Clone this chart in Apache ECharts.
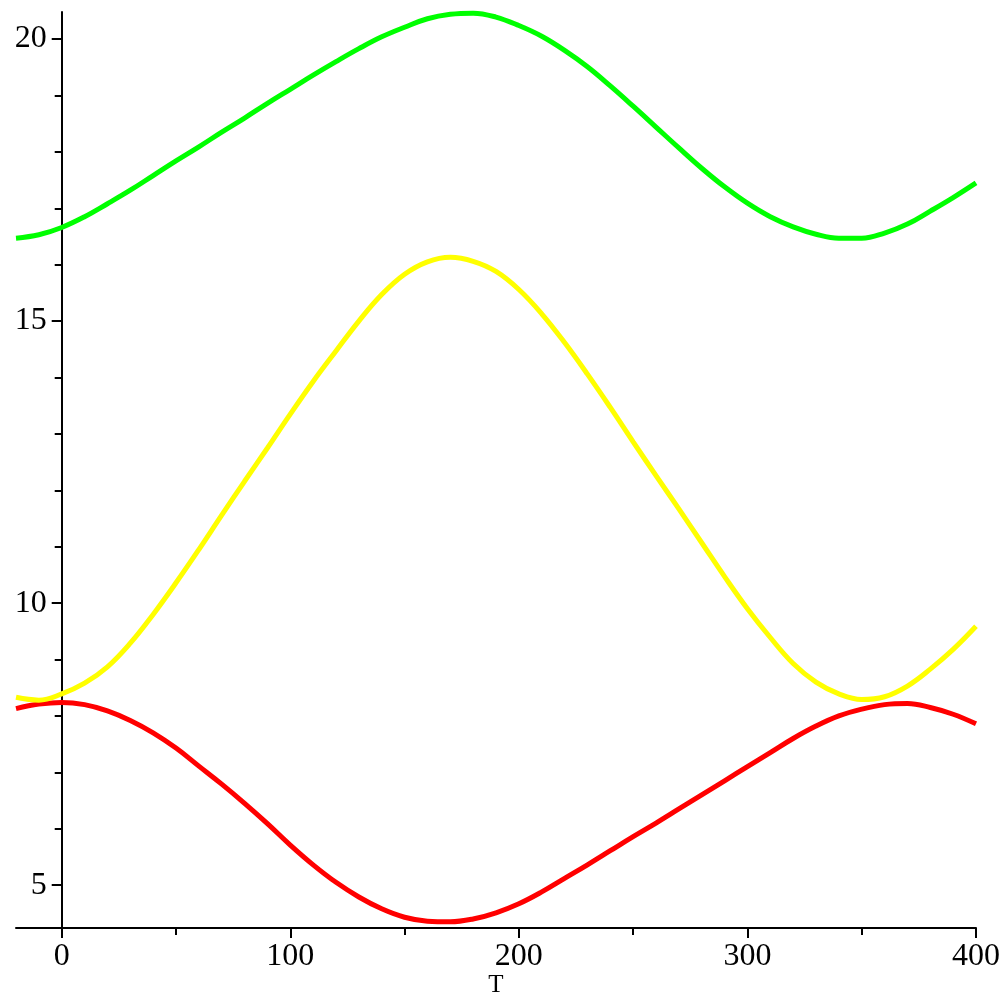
<!DOCTYPE html>
<html><head><meta charset="utf-8">
<script src="https://cdn.jsdelivr.net/npm/echarts@6/dist/echarts.min.js"></script>
<style>html,body{margin:0;padding:0;background:#fff}#c{width:1001px;height:994px}</style>
</head><body><div id="c"></div>
<script>
const T = [-20,-10,0,10,20,30,40,50,60,70,80,90,100,110,120,130,140,150,160,170,180,190,200,210,220,230,240,250,260,270,280,290,300,310,320,330,340,350,360,370,380,390,400];
const red = [8.13,8.21,8.24,8.20,8.09,7.92,7.70,7.43,7.11,6.79,6.45,6.09,5.71,5.36,5.05,4.79,4.58,4.43,4.36,4.35,4.40,4.51,4.67,4.88,5.12,5.36,5.61,5.86,6.10,6.35,6.60,6.85,7.10,7.35,7.60,7.82,8.00,8.12,8.20,8.22,8.15,8.03,7.86];
const green = [16.47,16.53,16.66,16.85,17.08,17.32,17.58,17.84,18.09,18.35,18.60,18.86,19.11,19.36,19.60,19.83,20.04,20.21,20.36,20.44,20.46,20.39,20.24,20.05,19.80,19.51,19.17,18.81,18.44,18.07,17.71,17.38,17.09,16.85,16.67,16.54,16.47,16.47,16.56,16.72,16.95,17.19,17.45];
const yellow = [8.33,8.28,8.39,8.58,8.87,9.29,9.80,10.36,10.95,11.56,12.16,12.75,13.35,13.93,14.47,15.00,15.47,15.83,16.05,16.13,16.06,15.88,15.56,15.13,14.62,14.06,13.47,12.86,12.26,11.67,11.07,10.47,9.90,9.39,8.93,8.60,8.39,8.29,8.34,8.53,8.83,9.18,9.59];
const xMajorTicks = [0,100,200,300,400];
const xMinorTicks = [50,150,250,350];
const yMajorTicks = [5,10,15,20];
const yMinorTicks = [5,6,7,8,9,10,11,12,13,14,15,16,17,18,19,20];
const xName = 'T';

const XMIN = -20, XMAX = 400, YMIN = 4.24, YMAX = 20.48;
const font = 'Liberation Serif';
const GL = 16, GR = 25, W = 1001;
// shift y axis from the grid's left edge to T = 0
const yOff = -((0 - XMIN) / (XMAX - XMIN)) * (W - GL - GR);

function pairs(ys){ return T.map((t,i)=>[t, ys[i]]); }

const chart = echarts.init(document.getElementById('c'), null, {renderer:'canvas'});
chart.setOption({
  animation: false,
  backgroundColor: '#fff',
  grid: {left: GL, right: GR, top: 12, bottom: 66, containLabel: false, outerBoundsMode: 'none'},
  xAxis: [
    {type:'value', min: XMIN, max: XMAX, position:'bottom',
     name: xName, nameLocation:'middle', nameGap: 57, nameMoveOverlap: false,
     nameTextStyle: {fontFamily: font, fontSize: 25, color:'#000', verticalAlign: 'middle'},
     axisLine: {show:true, onZero:false, lineStyle:{color:'#000', width:2}},
     axisTick: {show:true, customValues: xMajorTicks, length: 10, lineStyle:{color:'#000', width:2}},
     axisLabel: {show:true, customValues: xMajorTicks, fontFamily: font, fontSize: 32, color:'#000', margin: 13},
     splitLine: {show:false}},
    {type:'value', min: XMIN, max: XMAX, position:'bottom',
     axisLine: {show:false, onZero:false},
     axisTick: {show:true, customValues: xMinorTicks, length: 7, lineStyle:{color:'#000', width:2}},
     axisLabel: {show:false},
     splitLine: {show:false}}
  ],
  yAxis: [
    {type:'value', min: YMIN, max: YMAX, position:'left', offset: yOff,
     axisLine: {show:true, onZero:false, lineStyle:{color:'#000', width:2}},
     axisTick: {show:true, customValues: yMajorTicks, length: 10, lineStyle:{color:'#000', width:2}},
     axisLabel: {show:true, customValues: yMajorTicks, fontFamily: font, fontSize: 32, color:'#000', margin: 15},
     splitLine: {show:false}},
    {type:'value', min: YMIN, max: YMAX, position:'left', offset: yOff,
     axisLine: {show:false, onZero:false},
     axisTick: {show:true, customValues: yMinorTicks, length: 7, lineStyle:{color:'#000', width:2}},
     axisLabel: {show:false},
     splitLine: {show:false}}
  ],
  series: [
    {type:'line', data: pairs(red), smooth: 0.4, showSymbol:false, lineStyle:{color:'#ff0000', width:5}, itemStyle:{color:'#ff0000'}},
    {type:'line', data: pairs(green), smooth: 0.4, showSymbol:false, lineStyle:{color:'#00ff00', width:5}, itemStyle:{color:'#00ff00'}},
    {type:'line', data: pairs(yellow), smooth: 0.4, showSymbol:false, lineStyle:{color:'#ffff00', width:5}, itemStyle:{color:'#ffff00'}}
  ]
});
</script>
</body></html>
